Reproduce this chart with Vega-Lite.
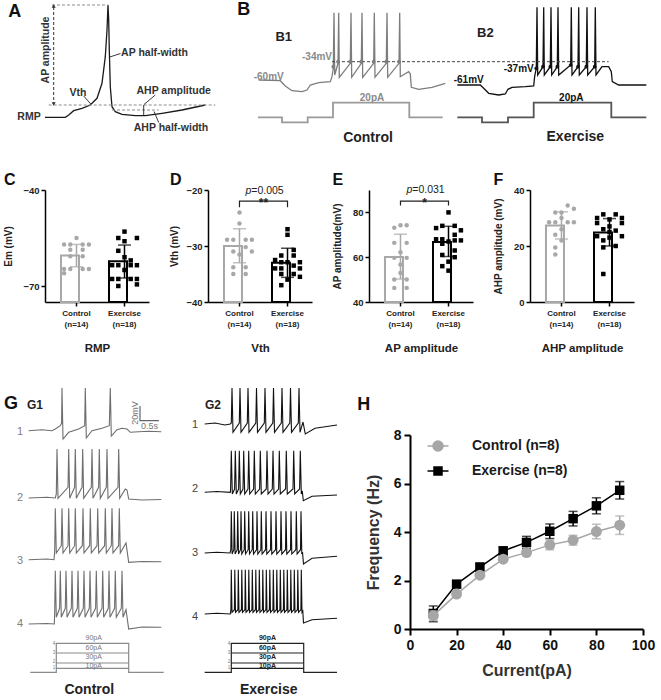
{
"$schema":"https://vega.github.io/schema/vega-lite/v6.json",
"padding":{"left":3,"top":0,"right":0,"bottom":0},
"background":"white",
"config":{"font":"Liberation Sans","view":{"stroke":null}},
"datasets":{
"top":[
{"s":"A","x":43,"y":32.7},{"s":"A","x":63.3,"y":32.7},{"s":"A","x":66.7,"y":35},{"s":"A","x":71.7,"y":39.3},{"s":"A","x":80,"y":41.7},{"s":"A","x":88.3,"y":45},{"s":"A","x":95,"y":51.7},{"s":"A","x":100,"y":66.7},{"s":"A","x":103.3,"y":93.3},{"s":"A","x":105,"y":120},{"s":"A","x":106,"y":145},{"s":"A","x":106.7,"y":130},{"s":"A","x":107.3,"y":100},{"s":"A","x":108.3,"y":63.3},{"s":"A","x":110,"y":43.3},{"s":"A","x":113.3,"y":38.3},{"s":"A","x":120,"y":35.7},{"s":"A","x":133.3,"y":34.3},{"s":"A","x":143.3,"y":34.3},{"s":"A","x":160,"y":36.7},{"s":"A","x":180,"y":40},{"s":"A","x":203.3,"y":45},
{"s":"Aa1","x":81.7,"y":54},{"s":"Aa1","x":88.8,"y":46},
{"s":"Aa2","x":118.5,"y":96.5},{"s":"Aa2","x":107.8,"y":93},
{"s":"Aa3","x":153.3,"y":55},{"s":"Aa3","x":142,"y":45.5},
{"s":"Aa4","x":156.7,"y":27.5},{"s":"Aa4","x":152,"y":38.5},
{"s":"Aa5","x":141.7,"y":45},{"s":"Aa5","x":141.7,"y":34.5},
{"s":"Ad1","x":50,"y":145},{"s":"Ad1","x":106,"y":145},
{"s":"Ad2","x":46.7,"y":45},{"s":"Ad2","x":213.3,"y":45},
{"s":"Ad3","x":110,"y":40},{"s":"Ad3","x":156.7,"y":40},
{"s":"Av","x":51.7,"y":143},{"s":"Av","x":51.7,"y":47},
{"s":"B1","x":256.7,"y":70},{"s":"B1","x":278.3,"y":69.3},{"s":"B1","x":283.3,"y":64},{"s":"B1","x":290,"y":59.3},{"s":"B1","x":300,"y":58.3},{"s":"B1","x":305,"y":60},{"s":"B1","x":308.3,"y":65},{"s":"B1","x":316.7,"y":67.3},{"s":"B1","x":328.3,"y":68.3},{"s":"B1","x":330,"y":73.3},{"s":"B1","x":331.3,"y":81.7},{"s":"B1","x":332,"y":137.3},{"s":"B1","x":332.7,"y":75},{"s":"B1","x":336,"y":86.7},{"s":"B1","x":336.7,"y":137.3},{"s":"B1","x":337.3,"y":72.7},{"s":"B1","x":348.3,"y":86.7},{"s":"B1","x":349,"y":137.3},{"s":"B1","x":349.7,"y":72.7},{"s":"B1","x":359.3,"y":86.7},{"s":"B1","x":360,"y":137.3},{"s":"B1","x":360.7,"y":72.7},{"s":"B1","x":371.7,"y":86.7},{"s":"B1","x":372.3,"y":137.3},{"s":"B1","x":373,"y":72.7},{"s":"B1","x":384.3,"y":86.7},{"s":"B1","x":385,"y":137.3},{"s":"B1","x":385.7,"y":72.7},{"s":"B1","x":397,"y":86.7},{"s":"B1","x":397.7,"y":137.3},{"s":"B1","x":398.3,"y":73.3},{"s":"B1","x":406.7,"y":78.3},{"s":"B1","x":408.3,"y":76},{"s":"B1","x":409.3,"y":62.7},{"s":"B1","x":416.7,"y":60.7},{"s":"B1","x":430,"y":62.7},{"s":"B1","x":443.3,"y":66.7},
{"s":"B1i","x":256,"y":32.7},{"s":"B1i","x":280,"y":32.7},{"s":"B1i","x":280,"y":27.7},{"s":"B1i","x":305.7,"y":27.7},{"s":"B1i","x":305.7,"y":32.7},{"s":"B1i","x":331,"y":32.7},{"s":"B1i","x":331,"y":47.3},{"s":"B1i","x":407.3,"y":47.3},{"s":"B1i","x":407.3,"y":32.7},{"s":"B1i","x":440.7,"y":32.7},
{"s":"B2","x":455.3,"y":65},{"s":"B2","x":478.3,"y":65},{"s":"B2","x":481.7,"y":61.7},{"s":"B2","x":486.7,"y":56.7},{"s":"B2","x":496.7,"y":55},{"s":"B2","x":503.3,"y":56},{"s":"B2","x":506,"y":60.7},{"s":"B2","x":510,"y":62.7},{"s":"B2","x":523.3,"y":63.3},{"s":"B2","x":531.7,"y":64},{"s":"B2","x":532.7,"y":74},{"s":"B2","x":534.3,"y":81.7},{"s":"B2","x":535,"y":142.7},{"s":"B2","x":535.7,"y":75},{"s":"B2","x":541,"y":83.3},{"s":"B2","x":541.7,"y":142.7},{"s":"B2","x":542.3,"y":75},{"s":"B2","x":548.3,"y":83.3},{"s":"B2","x":549,"y":142.7},{"s":"B2","x":549.7,"y":75},{"s":"B2","x":555.3,"y":83.3},{"s":"B2","x":556,"y":142.7},{"s":"B2","x":556.7,"y":75},{"s":"B2","x":568.7,"y":85},{"s":"B2","x":569.3,"y":142.7},{"s":"B2","x":570,"y":75},{"s":"B2","x":576,"y":83.3},{"s":"B2","x":576.7,"y":142.7},{"s":"B2","x":577.3,"y":75},{"s":"B2","x":584.3,"y":83.3},{"s":"B2","x":585,"y":142.7},{"s":"B2","x":585.7,"y":75},{"s":"B2","x":592.7,"y":83.3},{"s":"B2","x":593.3,"y":142.7},{"s":"B2","x":594,"y":75},{"s":"B2","x":600,"y":83.3},{"s":"B2","x":606.7,"y":83.3},{"s":"B2","x":609.3,"y":78.3},{"s":"B2","x":610.3,"y":68.3},{"s":"B2","x":616.7,"y":65},{"s":"B2","x":630,"y":65},{"s":"B2","x":644.3,"y":65},
{"s":"B2i","x":455.3,"y":32.7},{"s":"B2i","x":480,"y":32.7},{"s":"B2i","x":480,"y":27.7},{"s":"B2i","x":506,"y":27.7},{"s":"B2i","x":506,"y":32.7},{"s":"B2i","x":531.7,"y":32.7},{"s":"B2i","x":531.7,"y":47.3},{"s":"B2i","x":609.3,"y":47.3},{"s":"B2i","x":609.3,"y":32.7},{"s":"B2i","x":644.3,"y":32.7},
{"s":"Bd","x":330,"y":88.3},{"s":"Bd","x":606.7,"y":88.3}
],
"mk":[
{"s":"B1","x":331.3,"y":83.3},{"s":"B1","x":336,"y":88.3},{"s":"B1","x":348.3,"y":88.3},{"s":"B1","x":359.3,"y":88.3},{"s":"B1","x":371.7,"y":88.3},{"s":"B1","x":384.3,"y":88.3},{"s":"B1","x":397,"y":88.3},
{"s":"B2","x":534.3,"y":81.7},{"s":"B2","x":541,"y":83.3},{"s":"B2","x":548.3,"y":83.3},{"s":"B2","x":555.3,"y":83.3},{"s":"B2","x":568.7,"y":85},{"s":"B2","x":576,"y":83.3},{"s":"B2","x":584.3,"y":83.3},{"s":"B2","x":592.7,"y":83.3}
],
"ah":[{"x":51.7,"y":144,"d":"up"},{"x":51.7,"y":46,"d":"down"}],
"ttop":[
{"x":12.7,"y":138.3,"t":"A","k":"L"},{"x":241.7,"y":140,"t":"B","k":"L"},
{"x":281.7,"y":113.3,"t":"B1","k":"S"},{"x":483.3,"y":116.7,"t":"B2","k":"S"},
{"x":366,"y":11.7,"t":"Control","k":"C"},{"x":573.3,"y":13.3,"t":"Exercise","k":"C"},
{"x":76,"y":57.3,"t":"Vth","k":"N"},{"x":152.5,"y":97.3,"t":"AP half-width","k":"N"},{"x":171.7,"y":59.3,"t":"AHP amplitude","k":"N"},{"x":169,"y":22.3,"t":"AHP half-width","k":"N"},{"x":27,"y":32.7,"t":"RMP","k":"N"},
{"x":44.3,"y":100,"t":"AP amplitude","k":"R"},
{"x":266.7,"y":72.7,"t":"-60mV","k":"Vg"},{"x":315,"y":92.7,"t":"-34mV","k":"Vg"},{"x":370,"y":52.3,"t":"20pA","k":"Vg"},
{"x":466.7,"y":70,"t":"-61mV","k":"Vb"},{"x":516.7,"y":80.7,"t":"-37mV","k":"Vb"},{"x":569.3,"y":52.3,"t":"20pA","k":"Vb"}
],
"sum":[
{"p":"C","grp":"Control","m":-60.5,"lo":-64,"hi":-57},{"p":"C","grp":"Exercise","m":-62.3,"lo":-67.5,"hi":-57.2},
{"p":"D","grp":"Control","m":-30,"lo":-33,"hi":-26.9},{"p":"D","grp":"Exercise","m":-33,"lo":-35.6,"hi":-30.4},
{"p":"E","grp":"Control","m":60.1,"lo":50.3,"hi":70.3},{"p":"E","grp":"Exercise","m":66.8,"lo":60.3,"hi":73.8},
{"p":"F","grp":"Control","m":27.3,"lo":22.5,"hi":32.2},{"p":"F","grp":"Exercise","m":24.8,"lo":20,"hi":29.8}
],
"pts":[
{"p":"C","grp":"Control","v":-55,"k":0},{"p":"C","grp":"Control","v":-57,"k":-2},{"p":"C","grp":"Control","v":-57,"k":-1},{"p":"C","grp":"Control","v":-57,"k":1},{"p":"C","grp":"Control","v":-57,"k":2},{"p":"C","grp":"Control","v":-58.7,"k":-1},{"p":"C","grp":"Control","v":-58.7,"k":1},{"p":"C","grp":"Control","v":-60.7,"k":-1},{"p":"C","grp":"Control","v":-60.7,"k":1},{"p":"C","grp":"Control","v":-64.7,"k":-2},{"p":"C","grp":"Control","v":-64.7,"k":-1},{"p":"C","grp":"Control","v":-64.7,"k":1},{"p":"C","grp":"Control","v":-64.7,"k":2},{"p":"C","grp":"Control","v":-66,"k":-2},
{"p":"C","grp":"Exercise","v":-53,"k":0},{"p":"C","grp":"Exercise","v":-55,"k":-1},{"p":"C","grp":"Exercise","v":-55,"k":2},{"p":"C","grp":"Exercise","v":-56,"k":0},{"p":"C","grp":"Exercise","v":-59,"k":-1},{"p":"C","grp":"Exercise","v":-61,"k":0},{"p":"C","grp":"Exercise","v":-62,"k":1},{"p":"C","grp":"Exercise","v":-63.5,"k":-2},{"p":"C","grp":"Exercise","v":-63.5,"k":-1},{"p":"C","grp":"Exercise","v":-63.5,"k":1},{"p":"C","grp":"Exercise","v":-63.5,"k":2},{"p":"C","grp":"Exercise","v":-65,"k":0},{"p":"C","grp":"Exercise","v":-67.8,"k":-2},{"p":"C","grp":"Exercise","v":-67.8,"k":-1},{"p":"C","grp":"Exercise","v":-67.8,"k":1},{"p":"C","grp":"Exercise","v":-67.8,"k":2},{"p":"C","grp":"Exercise","v":-69.5,"k":2},{"p":"C","grp":"Exercise","v":-70,"k":-1},
{"p":"D","grp":"Control","v":-24,"k":0},{"p":"D","grp":"Control","v":-26,"k":0},{"p":"D","grp":"Control","v":-28.9,"k":-2},{"p":"D","grp":"Control","v":-28.9,"k":-1},{"p":"D","grp":"Control","v":-28.9,"k":1},{"p":"D","grp":"Control","v":-28.9,"k":2},{"p":"D","grp":"Control","v":-30.2,"k":1},{"p":"D","grp":"Control","v":-31,"k":-1},{"p":"D","grp":"Control","v":-31.5,"k":0},{"p":"D","grp":"Control","v":-31,"k":2},{"p":"D","grp":"Control","v":-33.8,"k":-1},{"p":"D","grp":"Control","v":-33.8,"k":1},{"p":"D","grp":"Control","v":-35,"k":-1},{"p":"D","grp":"Control","v":-35,"k":1},
{"p":"D","grp":"Exercise","v":-27,"k":0},{"p":"D","grp":"Exercise","v":-28,"k":0},{"p":"D","grp":"Exercise","v":-30.7,"k":1},{"p":"D","grp":"Exercise","v":-31.7,"k":-1},{"p":"D","grp":"Exercise","v":-31.7,"k":1},{"p":"D","grp":"Exercise","v":-32.5,"k":-2},{"p":"D","grp":"Exercise","v":-32.9,"k":-1},{"p":"D","grp":"Exercise","v":-32.9,"k":0},{"p":"D","grp":"Exercise","v":-32.9,"k":2},{"p":"D","grp":"Exercise","v":-33.5,"k":1},{"p":"D","grp":"Exercise","v":-34,"k":-2},{"p":"D","grp":"Exercise","v":-34,"k":-1},{"p":"D","grp":"Exercise","v":-34,"k":2},{"p":"D","grp":"Exercise","v":-35,"k":-1},{"p":"D","grp":"Exercise","v":-35,"k":1},{"p":"D","grp":"Exercise","v":-35.5,"k":2},{"p":"D","grp":"Exercise","v":-36,"k":0},{"p":"D","grp":"Exercise","v":-37,"k":-1},
{"p":"E","grp":"Control","v":74.3,"k":0},{"p":"E","grp":"Control","v":74.3,"k":1},{"p":"E","grp":"Control","v":73.1,"k":-1},{"p":"E","grp":"Control","v":66.4,"k":-1},{"p":"E","grp":"Control","v":66.4,"k":1},{"p":"E","grp":"Control","v":62.2,"k":0},{"p":"E","grp":"Control","v":59.7,"k":-1},{"p":"E","grp":"Control","v":59.7,"k":1},{"p":"E","grp":"Control","v":56.7,"k":0},{"p":"E","grp":"Control","v":53,"k":0},{"p":"E","grp":"Control","v":50,"k":-1},{"p":"E","grp":"Control","v":50,"k":1},{"p":"E","grp":"Control","v":46.3,"k":-1},{"p":"E","grp":"Control","v":46.3,"k":1},
{"p":"E","grp":"Exercise","v":80,"k":0},{"p":"E","grp":"Exercise","v":74,"k":-1},{"p":"E","grp":"Exercise","v":74,"k":1},{"p":"E","grp":"Exercise","v":73,"k":-2},{"p":"E","grp":"Exercise","v":72,"k":2},{"p":"E","grp":"Exercise","v":70,"k":1},{"p":"E","grp":"Exercise","v":68,"k":-2},{"p":"E","grp":"Exercise","v":68,"k":-1},{"p":"E","grp":"Exercise","v":67.5,"k":1},{"p":"E","grp":"Exercise","v":67.5,"k":2},{"p":"E","grp":"Exercise","v":67,"k":0},{"p":"E","grp":"Exercise","v":66,"k":-1},{"p":"E","grp":"Exercise","v":63,"k":1},{"p":"E","grp":"Exercise","v":61,"k":-1},{"p":"E","grp":"Exercise","v":60,"k":1},{"p":"E","grp":"Exercise","v":58,"k":0},{"p":"E","grp":"Exercise","v":56,"k":-1},{"p":"E","grp":"Exercise","v":54,"k":0},
{"p":"F","grp":"Control","v":34.5,"k":1},{"p":"F","grp":"Control","v":33.3,"k":2},{"p":"F","grp":"Control","v":32,"k":-1},{"p":"F","grp":"Control","v":32,"k":0},{"p":"F","grp":"Control","v":30,"k":0},{"p":"F","grp":"Control","v":28.5,"k":-2},{"p":"F","grp":"Control","v":28.5,"k":-1},{"p":"F","grp":"Control","v":28.5,"k":1},{"p":"F","grp":"Control","v":28.5,"k":2},{"p":"F","grp":"Control","v":26,"k":0},{"p":"F","grp":"Control","v":24,"k":-1},{"p":"F","grp":"Control","v":22,"k":0},{"p":"F","grp":"Control","v":19.5,"k":-1},{"p":"F","grp":"Control","v":17,"k":-1},
{"p":"F","grp":"Exercise","v":31.3,"k":-1},{"p":"F","grp":"Exercise","v":31.3,"k":1},{"p":"F","grp":"Exercise","v":30,"k":-2},{"p":"F","grp":"Exercise","v":30,"k":2},{"p":"F","grp":"Exercise","v":29.5,"k":0},{"p":"F","grp":"Exercise","v":28.2,"k":-2},{"p":"F","grp":"Exercise","v":28.2,"k":2},{"p":"F","grp":"Exercise","v":27,"k":0},{"p":"F","grp":"Exercise","v":26,"k":-1},{"p":"F","grp":"Exercise","v":25.5,"k":1},{"p":"F","grp":"Exercise","v":25,"k":0},{"p":"F","grp":"Exercise","v":23.5,"k":-2},{"p":"F","grp":"Exercise","v":23.5,"k":2},{"p":"F","grp":"Exercise","v":23,"k":0},{"p":"F","grp":"Exercise","v":22,"k":-1},{"p":"F","grp":"Exercise","v":20,"k":1},{"p":"F","grp":"Exercise","v":19.5,"k":-1},{"p":"F","grp":"Exercise","v":10,"k":-1}
],
"brk":[
{"p":"D","grp":"Control","y":-23.1},{"p":"D","grp":"Control","y":-22},{"p":"D","grp":"Exercise","y":-22},{"p":"D","grp":"Exercise","y":-23.1},
{"p":"E","grp":"Control","y":83.1},{"p":"E","grp":"Control","y":85},{"p":"E","grp":"Exercise","y":85},{"p":"E","grp":"Exercise","y":83.1}
],
"sig":[
{"p":"D","grp":"Control","y":-22,"pv":"=0.005","st":"**"},
{"p":"E","grp":"Control","y":85,"pv":"=0.031","st":"*"}
],
"freq":[
{"cur":10,"g":"Control","f":0.55,"lo":0.35,"hi":0.75},{"cur":20,"g":"Control","f":1.44,"lo":1.34,"hi":1.54},{"cur":30,"g":"Control","f":2.22,"lo":2.12,"hi":2.32},{"cur":40,"g":"Control","f":2.88,"lo":2.78,"hi":2.98},{"cur":50,"g":"Control","f":3.15,"lo":3.03,"hi":3.27},{"cur":60,"g":"Control","f":3.47,"lo":3.27,"hi":3.67},{"cur":70,"g":"Control","f":3.66,"lo":3.46,"hi":3.86},{"cur":80,"g":"Control","f":4.02,"lo":3.72,"hi":4.32},{"cur":90,"g":"Control","f":4.28,"lo":3.9,"hi":4.66},
{"cur":10,"g":"Exercise","f":0.64,"lo":0.3,"hi":0.95},{"cur":20,"g":"Exercise","f":1.85,"lo":1.71,"hi":1.99},{"cur":30,"g":"Exercise","f":2.55,"lo":2.38,"hi":2.72},{"cur":40,"g":"Exercise","f":3.22,"lo":3.05,"hi":3.39},{"cur":50,"g":"Exercise","f":3.57,"lo":3.32,"hi":3.82},{"cur":60,"g":"Exercise","f":4.03,"lo":3.73,"hi":4.33},{"cur":70,"g":"Exercise","f":4.55,"lo":4.25,"hi":4.85},{"cur":80,"g":"Exercise","f":5.08,"lo":4.75,"hi":5.41},{"cur":90,"g":"Exercise","f":5.72,"lo":5.36,"hi":6.08}
],
"gl":[
{"s":"g1r1","x":26.7,"y":268.3},{"s":"g1r1","x":40,"y":269.3},{"s":"g1r1","x":50,"y":268.3},{"s":"g1r1","x":53.3,"y":270},{"s":"g1r1","x":58.3,"y":273.3},{"s":"g1r1","x":59.6,"y":276},{"s":"g1r1","x":60,"y":311},{"s":"g1r1","x":61,"y":260},{"s":"g1r1","x":66.7,"y":266.7},{"s":"g1r1","x":76.7,"y":270},{"s":"g1r1","x":82.7,"y":273.3},{"s":"g1r1","x":83.3,"y":311},{"s":"g1r1","x":84.3,"y":261},{"s":"g1r1","x":90,"y":268.3},{"s":"g1r1","x":100,"y":270.7},{"s":"g1r1","x":107.3,"y":273.3},{"s":"g1r1","x":108.3,"y":311},{"s":"g1r1","x":109.3,"y":263},{"s":"g1r1","x":115,"y":269.3},{"s":"g1r1","x":120,"y":270.7},{"s":"g1r1","x":125,"y":270},{"s":"g1r1","x":128.3,"y":266.7},{"s":"g1r1","x":136.7,"y":267.3},{"s":"g1r1","x":146.7,"y":267.7},{"s":"g1r1","x":159.3,"y":267.3},
{"s":"g1r2","x":26.7,"y":201},{"s":"g1r2","x":45,"y":201.7},{"s":"g1r2","x":53.3,"y":201},{"s":"g1r2","x":54.3,"y":205},{"s":"g1r2","x":55,"y":250},{"s":"g1r2","x":56,"y":200.7},{"s":"g1r2","x":66,"y":211.7},{"s":"g1r2","x":66.7,"y":250},{"s":"g1r2","x":67.7,"y":200.7},{"s":"g1r2","x":72.6,"y":211.7},{"s":"g1r2","x":73.3,"y":250},{"s":"g1r2","x":74.3,"y":200.7},{"s":"g1r2","x":80,"y":211.7},{"s":"g1r2","x":80.7,"y":250},{"s":"g1r2","x":81.7,"y":200.7},{"s":"g1r2","x":89.3,"y":211.7},{"s":"g1r2","x":90,"y":250},{"s":"g1r2","x":91,"y":200.7},{"s":"g1r2","x":96.6,"y":211.7},{"s":"g1r2","x":97.3,"y":250},{"s":"g1r2","x":98.3,"y":200.7},{"s":"g1r2","x":104.3,"y":211.7},{"s":"g1r2","x":105,"y":250},{"s":"g1r2","x":106,"y":200.7},{"s":"g1r2","x":116,"y":211.7},{"s":"g1r2","x":116.7,"y":250},{"s":"g1r2","x":117.7,"y":200.7},{"s":"g1r2","x":123.3,"y":210},{"s":"g1r2","x":125,"y":209},{"s":"g1r2","x":126.7,"y":200},{"s":"g1r2","x":140,"y":199},{"s":"g1r2","x":159.3,"y":199.5},
{"s":"g1r3","x":26.7,"y":139.3},{"s":"g1r3","x":45,"y":140},{"s":"g1r3","x":52,"y":139.3},{"s":"g1r3","x":52.7,"y":148.3},{"s":"g1r3","x":53.3,"y":190.7},{"s":"g1r3","x":54.3,"y":146},{"s":"g1r3","x":59.3,"y":153.3},{"s":"g1r3","x":60,"y":190.7},{"s":"g1r3","x":61,"y":146},{"s":"g1r3","x":66,"y":153.3},{"s":"g1r3","x":66.7,"y":190.7},{"s":"g1r3","x":67.7,"y":146},{"s":"g1r3","x":72.6,"y":153.3},{"s":"g1r3","x":73.3,"y":190.7},{"s":"g1r3","x":74.3,"y":146},{"s":"g1r3","x":80.3,"y":153.3},{"s":"g1r3","x":81,"y":190.7},{"s":"g1r3","x":82,"y":146},{"s":"g1r3","x":87.6,"y":153.3},{"s":"g1r3","x":88.3,"y":190.7},{"s":"g1r3","x":89.3,"y":146},{"s":"g1r3","x":95,"y":153.3},{"s":"g1r3","x":95.7,"y":190.7},{"s":"g1r3","x":96.7,"y":146},{"s":"g1r3","x":102.6,"y":153.3},{"s":"g1r3","x":103.3,"y":190.7},{"s":"g1r3","x":104.3,"y":146},{"s":"g1r3","x":109.3,"y":153.3},{"s":"g1r3","x":110,"y":190.7},{"s":"g1r3","x":111,"y":146},{"s":"g1r3","x":116.6,"y":153.3},{"s":"g1r3","x":117.3,"y":190.7},{"s":"g1r3","x":118.3,"y":146},{"s":"g1r3","x":124,"y":156},{"s":"g1r3","x":126.7,"y":136.7},{"s":"g1r3","x":140,"y":137.5},{"s":"g1r3","x":159.3,"y":137.3},
{"s":"g1r4","x":26.7,"y":75},{"s":"g1r4","x":45,"y":75.5},{"s":"g1r4","x":52.3,"y":75},{"s":"g1r4","x":52.7,"y":86.7},{"s":"g1r4","x":53.3,"y":128.3},{"s":"g1r4","x":54.3,"y":81.7},{"s":"g1r4","x":57.6,"y":90.7},{"s":"g1r4","x":58.3,"y":128.3},{"s":"g1r4","x":59.3,"y":81.7},{"s":"g1r4","x":63.3,"y":90.7},{"s":"g1r4","x":64,"y":128.3},{"s":"g1r4","x":65,"y":81.7},{"s":"g1r4","x":69.3,"y":90.7},{"s":"g1r4","x":70,"y":128.3},{"s":"g1r4","x":71,"y":81.7},{"s":"g1r4","x":75.3,"y":90.7},{"s":"g1r4","x":76,"y":128.3},{"s":"g1r4","x":77,"y":81.7},{"s":"g1r4","x":81.3,"y":90.7},{"s":"g1r4","x":82,"y":128.3},{"s":"g1r4","x":83,"y":81.7},{"s":"g1r4","x":87.3,"y":90.7},{"s":"g1r4","x":88,"y":128.3},{"s":"g1r4","x":89,"y":81.7},{"s":"g1r4","x":93.6,"y":90.7},{"s":"g1r4","x":94.3,"y":128.3},{"s":"g1r4","x":95.3,"y":81.7},{"s":"g1r4","x":100,"y":90.7},{"s":"g1r4","x":100.7,"y":128.3},{"s":"g1r4","x":101.7,"y":81.7},{"s":"g1r4","x":106.3,"y":90.7},{"s":"g1r4","x":107,"y":128.3},{"s":"g1r4","x":108,"y":81.7},{"s":"g1r4","x":112.6,"y":90.7},{"s":"g1r4","x":113.3,"y":128.3},{"s":"g1r4","x":114.3,"y":81.7},{"s":"g1r4","x":119.3,"y":90.7},{"s":"g1r4","x":120,"y":128.3},{"s":"g1r4","x":121,"y":81.7},{"s":"g1r4","x":124,"y":89.3},{"s":"g1r4","x":126.7,"y":70},{"s":"g1r4","x":140,"y":72},{"s":"g1r4","x":159.3,"y":71.7},
{"s":"g2r1","x":202.7,"y":275},{"s":"g2r1","x":213,"y":276},{"s":"g2r1","x":223,"y":274},{"s":"g2r1","x":228.3,"y":275},{"s":"g2r1","x":229.3,"y":276},{"s":"g2r1","x":230,"y":311},{"s":"g2r1","x":231,"y":266.7},{"s":"g2r1","x":237.3,"y":276},{"s":"g2r1","x":238,"y":311},{"s":"g2r1","x":239,"y":266.7},{"s":"g2r1","x":245.3,"y":276},{"s":"g2r1","x":246,"y":311},{"s":"g2r1","x":247,"y":266.7},{"s":"g2r1","x":253.8,"y":276},{"s":"g2r1","x":254.5,"y":311},{"s":"g2r1","x":255.5,"y":266.7},{"s":"g2r1","x":262.3,"y":276},{"s":"g2r1","x":263,"y":311},{"s":"g2r1","x":264,"y":266.7},{"s":"g2r1","x":270.8,"y":276},{"s":"g2r1","x":271.5,"y":311},{"s":"g2r1","x":272.5,"y":266.7},{"s":"g2r1","x":279.3,"y":276},{"s":"g2r1","x":280,"y":311},{"s":"g2r1","x":281,"y":266.7},{"s":"g2r1","x":287.8,"y":276},{"s":"g2r1","x":288.5,"y":311},{"s":"g2r1","x":289.5,"y":266.7},{"s":"g2r1","x":296.3,"y":276},{"s":"g2r1","x":297,"y":311},{"s":"g2r1","x":298,"y":266.7},{"s":"g2r1","x":301,"y":277},{"s":"g2r1","x":303.3,"y":265},{"s":"g2r1","x":313,"y":270.7},{"s":"g2r1","x":335,"y":274},
{"s":"g2r2","x":202.7,"y":206.7},{"s":"g2r2","x":215,"y":207.5},{"s":"g2r2","x":228.3,"y":206.7},{"s":"g2r2","x":228.6,"y":210},{"s":"g2r2","x":229.3,"y":248.3},{"s":"g2r2","x":230.3,"y":205},{"s":"g2r2","x":232.6,"y":210},{"s":"g2r2","x":233.3,"y":248.3},{"s":"g2r2","x":234.3,"y":205},{"s":"g2r2","x":236.6,"y":210},{"s":"g2r2","x":237.3,"y":248.3},{"s":"g2r2","x":238.3,"y":205},{"s":"g2r2","x":241,"y":210},{"s":"g2r2","x":241.7,"y":248.3},{"s":"g2r2","x":242.7,"y":205},{"s":"g2r2","x":246,"y":210},{"s":"g2r2","x":246.7,"y":248.3},{"s":"g2r2","x":247.7,"y":205},{"s":"g2r2","x":251.6,"y":210},{"s":"g2r2","x":252.3,"y":248.3},{"s":"g2r2","x":253.3,"y":205},{"s":"g2r2","x":257.6,"y":210},{"s":"g2r2","x":258.3,"y":248.3},{"s":"g2r2","x":259.3,"y":205},{"s":"g2r2","x":264.3,"y":210},{"s":"g2r2","x":265,"y":248.3},{"s":"g2r2","x":266,"y":205},{"s":"g2r2","x":270.3,"y":210},{"s":"g2r2","x":271,"y":248.3},{"s":"g2r2","x":272,"y":205},{"s":"g2r2","x":276.6,"y":210},{"s":"g2r2","x":277.3,"y":248.3},{"s":"g2r2","x":278.3,"y":205},{"s":"g2r2","x":283.6,"y":210},{"s":"g2r2","x":284.3,"y":248.3},{"s":"g2r2","x":285.3,"y":205},{"s":"g2r2","x":291,"y":210},{"s":"g2r2","x":291.7,"y":248.3},{"s":"g2r2","x":292.7,"y":205},{"s":"g2r2","x":297.6,"y":210},{"s":"g2r2","x":298.3,"y":248.3},{"s":"g2r2","x":299.3,"y":205},{"s":"g2r2","x":300.3,"y":208},{"s":"g2r2","x":301.3,"y":198.3},{"s":"g2r2","x":310,"y":202.7},{"s":"g2r2","x":335,"y":204},
{"s":"g2r3","x":202.7,"y":146},{"s":"g2r3","x":215,"y":146.7},{"s":"g2r3","x":228,"y":146},{"s":"g2r3","x":228.8,"y":149.3},{"s":"g2r3","x":229.3,"y":187.7},{"s":"g2r3","x":230.1,"y":145},{"s":"g2r3","x":231.8,"y":149.3},{"s":"g2r3","x":232.3,"y":187.7},{"s":"g2r3","x":233.1,"y":145},{"s":"g2r3","x":235.2,"y":149.3},{"s":"g2r3","x":235.7,"y":187.7},{"s":"g2r3","x":236.5,"y":145},{"s":"g2r3","x":238.5,"y":149.3},{"s":"g2r3","x":239,"y":187.7},{"s":"g2r3","x":239.8,"y":145},{"s":"g2r3","x":242.2,"y":149.3},{"s":"g2r3","x":242.7,"y":187.7},{"s":"g2r3","x":243.5,"y":145},{"s":"g2r3","x":246.2,"y":149.3},{"s":"g2r3","x":246.7,"y":187.7},{"s":"g2r3","x":247.5,"y":145},{"s":"g2r3","x":250.2,"y":149.3},{"s":"g2r3","x":250.7,"y":187.7},{"s":"g2r3","x":251.5,"y":145},{"s":"g2r3","x":254.5,"y":149.3},{"s":"g2r3","x":255,"y":187.7},{"s":"g2r3","x":255.8,"y":145},{"s":"g2r3","x":258.8,"y":149.3},{"s":"g2r3","x":259.3,"y":187.7},{"s":"g2r3","x":260.1,"y":145},{"s":"g2r3","x":263.5,"y":149.3},{"s":"g2r3","x":264,"y":187.7},{"s":"g2r3","x":264.8,"y":145},{"s":"g2r3","x":268.5,"y":149.3},{"s":"g2r3","x":269,"y":187.7},{"s":"g2r3","x":269.8,"y":145},{"s":"g2r3","x":273.5,"y":149.3},{"s":"g2r3","x":274,"y":187.7},{"s":"g2r3","x":274.8,"y":145},{"s":"g2r3","x":278.5,"y":149.3},{"s":"g2r3","x":279,"y":187.7},{"s":"g2r3","x":279.8,"y":145},{"s":"g2r3","x":283.5,"y":149.3},{"s":"g2r3","x":284,"y":187.7},{"s":"g2r3","x":284.8,"y":145},{"s":"g2r3","x":288.5,"y":149.3},{"s":"g2r3","x":289,"y":187.7},{"s":"g2r3","x":289.8,"y":145},{"s":"g2r3","x":293.8,"y":149.3},{"s":"g2r3","x":294.3,"y":187.7},{"s":"g2r3","x":295.1,"y":145},{"s":"g2r3","x":298.5,"y":149.3},{"s":"g2r3","x":299,"y":187.7},{"s":"g2r3","x":299.8,"y":145},{"s":"g2r3","x":300.5,"y":147},{"s":"g2r3","x":301.5,"y":135},{"s":"g2r3","x":310,"y":140.7},{"s":"g2r3","x":335,"y":142.7},
{"s":"g2r4","x":202.7,"y":85},{"s":"g2r4","x":215,"y":85.7},{"s":"g2r4","x":228.3,"y":85},{"s":"g2r4","x":228.9,"y":89.3},{"s":"g2r4","x":229.3,"y":129.3},{"s":"g2r4","x":230,"y":86.7},{"s":"g2r4","x":232.4,"y":89.3},{"s":"g2r4","x":232.8,"y":129.3},{"s":"g2r4","x":233.5,"y":86.7},{"s":"g2r4","x":235.9,"y":89.3},{"s":"g2r4","x":236.3,"y":129.3},{"s":"g2r4","x":237,"y":86.7},{"s":"g2r4","x":239.4,"y":89.3},{"s":"g2r4","x":239.8,"y":129.3},{"s":"g2r4","x":240.5,"y":86.7},{"s":"g2r4","x":242.9,"y":89.3},{"s":"g2r4","x":243.3,"y":129.3},{"s":"g2r4","x":244,"y":86.7},{"s":"g2r4","x":246.4,"y":89.3},{"s":"g2r4","x":246.8,"y":129.3},{"s":"g2r4","x":247.5,"y":86.7},{"s":"g2r4","x":249.9,"y":89.3},{"s":"g2r4","x":250.3,"y":129.3},{"s":"g2r4","x":251,"y":86.7},{"s":"g2r4","x":253.4,"y":89.3},{"s":"g2r4","x":253.8,"y":129.3},{"s":"g2r4","x":254.5,"y":86.7},{"s":"g2r4","x":256.9,"y":89.3},{"s":"g2r4","x":257.3,"y":129.3},{"s":"g2r4","x":258,"y":86.7},{"s":"g2r4","x":260.4,"y":89.3},{"s":"g2r4","x":260.8,"y":129.3},{"s":"g2r4","x":261.5,"y":86.7},{"s":"g2r4","x":263.9,"y":89.3},{"s":"g2r4","x":264.3,"y":129.3},{"s":"g2r4","x":265,"y":86.7},{"s":"g2r4","x":267.4,"y":89.3},{"s":"g2r4","x":267.8,"y":129.3},{"s":"g2r4","x":268.5,"y":86.7},{"s":"g2r4","x":270.9,"y":89.3},{"s":"g2r4","x":271.3,"y":129.3},{"s":"g2r4","x":272,"y":86.7},{"s":"g2r4","x":274.4,"y":89.3},{"s":"g2r4","x":274.8,"y":129.3},{"s":"g2r4","x":275.5,"y":86.7},{"s":"g2r4","x":277.9,"y":89.3},{"s":"g2r4","x":278.3,"y":129.3},{"s":"g2r4","x":279,"y":86.7},{"s":"g2r4","x":281.4,"y":89.3},{"s":"g2r4","x":281.8,"y":129.3},{"s":"g2r4","x":282.5,"y":86.7},{"s":"g2r4","x":284.9,"y":89.3},{"s":"g2r4","x":285.3,"y":129.3},{"s":"g2r4","x":286,"y":86.7},{"s":"g2r4","x":288.4,"y":89.3},{"s":"g2r4","x":288.8,"y":129.3},{"s":"g2r4","x":289.5,"y":86.7},{"s":"g2r4","x":291.9,"y":89.3},{"s":"g2r4","x":292.3,"y":129.3},{"s":"g2r4","x":293,"y":86.7},{"s":"g2r4","x":295.4,"y":89.3},{"s":"g2r4","x":295.8,"y":129.3},{"s":"g2r4","x":296.5,"y":86.7},{"s":"g2r4","x":298.9,"y":89.3},{"s":"g2r4","x":299.3,"y":129.3},{"s":"g2r4","x":300,"y":86.7},{"s":"g2r4","x":300.8,"y":88},{"s":"g2r4","x":301.5,"y":76},{"s":"g2r4","x":310,"y":79.3},{"s":"g2r4","x":335,"y":80.7},
{"s":"g1s","x":28.3,"y":26.7},{"s":"g1s","x":54.3,"y":26.7},{"s":"g1s","x":54.3,"y":55.7},{"s":"g1s","x":126.7,"y":55.7},{"s":"g1s","x":126.7,"y":26.7},{"s":"g1s","x":161.7,"y":26.7},
{"s":"g1s1","x":54.3,"y":30.7},{"s":"g1s1","x":126.7,"y":30.7},
{"s":"g1s2","x":54.3,"y":36},{"s":"g1s2","x":126.7,"y":36},
{"s":"g1s3","x":54.3,"y":46},{"s":"g1s3","x":126.7,"y":46},
{"s":"g2s","x":202.7,"y":26.7},{"s":"g2s","x":229.3,"y":26.7},{"s":"g2s","x":229.3,"y":55.7},{"s":"g2s","x":301.7,"y":55.7},{"s":"g2s","x":301.7,"y":26.7},{"s":"g2s","x":335,"y":26.7},
{"s":"g2s1","x":229.3,"y":30.7},{"s":"g2s1","x":301.7,"y":30.7},
{"s":"g2s2","x":229.3,"y":36},{"s":"g2s2","x":301.7,"y":36},
{"s":"g2s3","x":229.3,"y":46},{"s":"g2s3","x":301.7,"y":46},
{"s":"sb","x":138,"y":293},{"s":"sb","x":138,"y":278.3},{"s":"sb","x":157,"y":278.3}
],
"gt":[
{"x":9,"y":295,"t":"G","k":"L"},
{"x":33,"y":294,"t":"G1","k":"S"},{"x":211,"y":294,"t":"G2","k":"S"},
{"x":87.3,"y":9,"t":"Control","k":"C"},{"x":266.7,"y":9.5,"t":"Exercise","k":"C"},
{"x":18,"y":267,"t":"1","k":"n1"},{"x":18,"y":201,"t":"2","k":"n1"},{"x":18,"y":138.3,"t":"3","k":"n1"},{"x":18,"y":75,"t":"4","k":"n1"},
{"x":193,"y":274,"t":"1","k":"n2"},{"x":193,"y":210,"t":"2","k":"n2"},{"x":193,"y":146,"t":"3","k":"n2"},{"x":193,"y":81.7,"t":"4","k":"n2"},
{"x":91.7,"y":60.7,"t":"90pA","k":"pa1"},{"x":91.7,"y":50.7,"t":"60pA","k":"pa1"},{"x":91.7,"y":41.7,"t":"30pA","k":"pa1"},{"x":91.7,"y":33.3,"t":"10pA","k":"pa1"},
{"x":265.5,"y":60.7,"t":"90pA","k":"pa2"},{"x":265.5,"y":50.7,"t":"60pA","k":"pa2"},{"x":265.5,"y":41.7,"t":"30pA","k":"pa2"},{"x":265.5,"y":33.3,"t":"10pA","k":"pa2"},
{"x":52,"y":31,"t":"1","k":"tn"},{"x":52,"y":37,"t":"2","k":"tn"},{"x":52,"y":46.5,"t":"3","k":"tn"},{"x":52,"y":55.5,"t":"4","k":"tn"},
{"x":227,"y":31,"t":"1","k":"tn"},{"x":227,"y":37,"t":"2","k":"tn"},{"x":227,"y":46.5,"t":"3","k":"tn"},{"x":227,"y":55.5,"t":"4","k":"tn"},
{"x":147.5,"y":273.5,"t":"0.5s","k":"sbt"},{"x":133,"y":286,"t":"20mV","k":"sbr"}
]
},
"spacing":22,
"columns":1,
"resolve":{"scale":{"color":"independent","stroke":"independent","fill":"independent","shape":"independent"}},
"concat":[
{
"width":618,"height":150,
"encoding":{
"x":{"field":"x","type":"quantitative","scale":{"domain":[43,661],"nice":false,"zero":false},"axis":null},
"y":{"field":"y","type":"quantitative","scale":{"domain":[0,150],"nice":false,"zero":false},"axis":null}},
"layer":[
{"data":{"name":"top"},"transform":[{"filter":"indexof(['A','B1','B2'],datum.s)>=0"}],"mark":{"type":"line","strokeWidth":1.3},
"encoding":{"detail":{"field":"s","type":"nominal"},"order":{"value":null},"stroke":{"field":"s","type":"nominal","scale":{"domain":["A","B1","B2","B1i","B2i","Ad1","Ad2","Ad3","Av","Bd","Aa1","Aa2","Aa3","Aa4","Aa5"],"range":["#1a1a1a","#7d7d7d","#111111","#9a9a9a","#555555","#8c8c8c","#8c8c8c","#8c8c8c","#333333","#444444","#222222","#222222","#222222","#222222","#222222"]},"legend":null}}},
{"data":{"name":"top"},"transform":[{"filter":"indexof(['B1i','B2i'],datum.s)>=0"}],"mark":{"type":"line","strokeWidth":1.8},
"encoding":{"detail":{"field":"s","type":"nominal"},"order":{"value":null},"stroke":{"field":"s","type":"nominal","legend":null}}},
{"data":{"name":"top"},"transform":[{"filter":"indexof(['Ad1','Ad2','Ad3','Av','Bd'],datum.s)>=0"}],"mark":{"type":"line","strokeWidth":1,"strokeDash":[3,2]},
"encoding":{"detail":{"field":"s","type":"nominal"},"order":{"value":null},"stroke":{"field":"s","type":"nominal","legend":null}}},
{"data":{"name":"top"},"transform":[{"filter":"indexof(['Aa1','Aa2','Aa3','Aa4','Aa5'],datum.s)>=0"}],"mark":{"type":"line","strokeWidth":0.9},
"encoding":{"detail":{"field":"s","type":"nominal"},"order":{"value":null},"stroke":{"field":"s","type":"nominal","legend":null}}},
{"data":{"name":"mk"},"mark":{"type":"point","filled":true,"size":14,"opacity":1},
"encoding":{"color":{"field":"s","type":"nominal","scale":{"domain":["B1","B2"],"range":["#7d7d7d","#111111"]},"legend":null}}},
{"data":{"name":"ah"},"mark":{"type":"point","filled":true,"size":16,"color":"#333333","opacity":1},
"encoding":{"shape":{"field":"d","type":"nominal","scale":{"domain":["up","down"],"range":["triangle-up","triangle-down"]},"legend":null}}},
{"data":{"name":"ttop"},"transform":[{"filter":"datum.k=='L'"}],"mark":{"type":"text","fontSize":18,"fontWeight":"bold","color":"#111111"},"encoding":{"text":{"field":"t","type":"nominal"}}},
{"data":{"name":"ttop"},"transform":[{"filter":"datum.k=='S'"}],"mark":{"type":"text","fontSize":13,"fontWeight":"bold","color":"#222222"},"encoding":{"text":{"field":"t","type":"nominal"}}},
{"data":{"name":"ttop"},"transform":[{"filter":"datum.k=='C'"}],"mark":{"type":"text","fontSize":14,"fontWeight":"bold","color":"#222222"},"encoding":{"text":{"field":"t","type":"nominal"}}},
{"data":{"name":"ttop"},"transform":[{"filter":"datum.k=='N'"}],"mark":{"type":"text","fontSize":10.5,"fontWeight":"bold","color":"#333333"},"encoding":{"text":{"field":"t","type":"nominal"}}},
{"data":{"name":"ttop"},"transform":[{"filter":"datum.k=='R'"}],"mark":{"type":"text","fontSize":10.5,"fontWeight":"bold","color":"#333333","angle":270},"encoding":{"text":{"field":"t","type":"nominal"}}},
{"data":{"name":"ttop"},"transform":[{"filter":"datum.k=='Vg'"}],"mark":{"type":"text","fontSize":10,"fontWeight":"bold","color":"#8a8a8a"},"encoding":{"text":{"field":"t","type":"nominal"}}},
{"data":{"name":"ttop"},"transform":[{"filter":"datum.k=='Vb'"}],"mark":{"type":"text","fontSize":10,"fontWeight":"bold","color":"#111111"},"encoding":{"text":{"field":"t","type":"nominal"}}}
]
},
{
"spacing":31,
"columns":1,
"resolve":{"scale":{"color":"independent","stroke":"independent","fill":"independent","shape":"independent"}},
"concat":[
{
"spacing":20,
"hconcat":[
{
"title":{"text":"C","anchor":"start","frame":"bounds","fontSize":16,"fontWeight":"bold","color":"#111111","offset":-3},
"width":104,"height":112,
"encoding":{"x":{"field":"grp","type":"nominal","title":"RMP","scale":{"domain":["Control","Exercise"],"paddingInner":0.354,"paddingOuter":0.26,"align":0.64},"axis":{"labelAngle":0,"labelExpr":"datum.value=='Control'?['Control','(n=14)']:['Exercise','(n=18)']","labelFontSize":8,"labelFontWeight":"bold","labelColor":"#222222","labelLineHeight":11,"domainColor":"#000000","domainWidth":1.5,"tickColor":"#000000","tickWidth":1.5,"tickSize":4,"labelPadding":3,"titleFontSize":11.5,"titleFontWeight":"bold","titleColor":"#222222","titlePadding":14}}},
"layer":[
{"data":{"name":"sum"},"transform":[{"filter":"datum.p=='C'"}],"mark":{"type":"bar","filled":false,"strokeWidth":2},
"encoding":{"y":{"field":"m","type":"quantitative","title":"Em (mV)","scale":{"domain":[-75,-40],"nice":false,"zero":false},"axis":{"values":[-70,-60,-50,-40],"labelOverlap":false,"grid":false,"domainColor":"#000000","domainWidth":1.5,"tickColor":"#000000","tickWidth":1.5,"tickSize":4,"labelFontSize":9.5,"labelFontWeight":"bold","labelColor":"#222222","labelPadding":2,"titleFontSize":10,"titleFontWeight":"bold","titleColor":"#222222","titlePadding":9}},"y2":{"datum":-75},
"color":{"field":"grp","type":"nominal","scale":{"domain":["Control","Exercise"],"range":["#a8a8a8","#000000"]},"legend":null}}},
{"data":{"name":"pts"},"transform":[{"filter":"datum.p=='C'"}],"mark":{"type":"point","filled":true,"size":20,"opacity":1},
"encoding":{"y":{"field":"v","type":"quantitative","title":"Em (mV)"},"xOffset":{"field":"k","type":"ordinal","scale":{"domain":[-2,-1,0,1,2]}},"color":{"field":"grp","type":"nominal","legend":null},"shape":{"field":"grp","type":"nominal","scale":{"domain":["Control","Exercise"],"range":["circle","square"]},"legend":null}}},
{"data":{"name":"sum"},"transform":[{"filter":"datum.p=='C'"}],"mark":{"type":"rule","strokeWidth":1.5},
"encoding":{"y":{"field":"lo","type":"quantitative","title":"Em (mV)"},"y2":{"field":"hi"},"color":{"field":"grp","type":"nominal","legend":null}}},
{"data":{"name":"sum"},"transform":[{"filter":"datum.p=='C'"}],"mark":{"type":"tick","size":13,"thickness":1.5},
"encoding":{"y":{"field":"lo","type":"quantitative","title":"Em (mV)"},"color":{"field":"grp","type":"nominal","legend":null}}},
{"data":{"name":"sum"},"transform":[{"filter":"datum.p=='C'"}],"mark":{"type":"tick","size":13,"thickness":1.5},
"encoding":{"y":{"field":"hi","type":"quantitative","title":"Em (mV)"},"color":{"field":"grp","type":"nominal","legend":null}}}
]
},
{
"title":{"text":"D","anchor":"start","frame":"bounds","fontSize":16,"fontWeight":"bold","color":"#111111","offset":-3},
"width":104,"height":112,
"encoding":{"x":{"field":"grp","type":"nominal","title":"Vth","scale":{"domain":["Control","Exercise"],"paddingInner":0.354,"paddingOuter":0.26,"align":0.64},"axis":{"labelAngle":0,"labelExpr":"datum.value=='Control'?['Control','(n=14)']:['Exercise','(n=18)']","labelFontSize":8,"labelFontWeight":"bold","labelColor":"#222222","labelLineHeight":11,"domainColor":"#000000","domainWidth":1.5,"tickColor":"#000000","tickWidth":1.5,"tickSize":4,"labelPadding":3,"titleFontSize":11.5,"titleFontWeight":"bold","titleColor":"#222222","titlePadding":14}}},
"layer":[
{"data":{"name":"sum"},"transform":[{"filter":"datum.p=='D'"}],"mark":{"type":"bar","filled":false,"strokeWidth":2},
"encoding":{"y":{"field":"m","type":"quantitative","title":"Vth (mV)","scale":{"domain":[-40,-20],"nice":false,"zero":false},"axis":{"values":[-40,-35,-30,-25,-20],"labelOverlap":false,"grid":false,"domainColor":"#000000","domainWidth":1.5,"tickColor":"#000000","tickWidth":1.5,"tickSize":4,"labelFontSize":9.5,"labelFontWeight":"bold","labelColor":"#222222","labelPadding":2,"titleFontSize":10,"titleFontWeight":"bold","titleColor":"#222222","titlePadding":6}},"y2":{"datum":-40},
"color":{"field":"grp","type":"nominal","scale":{"domain":["Control","Exercise"],"range":["#a8a8a8","#000000"]},"legend":null}}},
{"data":{"name":"pts"},"transform":[{"filter":"datum.p=='D'"}],"mark":{"type":"point","filled":true,"size":20,"opacity":1},
"encoding":{"y":{"field":"v","type":"quantitative","title":"Vth (mV)"},"xOffset":{"field":"k","type":"ordinal","scale":{"domain":[-2,-1,0,1,2]}},"color":{"field":"grp","type":"nominal","legend":null},"shape":{"field":"grp","type":"nominal","scale":{"domain":["Control","Exercise"],"range":["circle","square"]},"legend":null}}},
{"data":{"name":"sum"},"transform":[{"filter":"datum.p=='D'"}],"mark":{"type":"rule","strokeWidth":1.5},
"encoding":{"y":{"field":"lo","type":"quantitative","title":"Vth (mV)"},"y2":{"field":"hi"},"color":{"field":"grp","type":"nominal","legend":null}}},
{"data":{"name":"sum"},"transform":[{"filter":"datum.p=='D'"}],"mark":{"type":"tick","size":13,"thickness":1.5},
"encoding":{"y":{"field":"lo","type":"quantitative","title":"Vth (mV)"},"color":{"field":"grp","type":"nominal","legend":null}}},
{"data":{"name":"sum"},"transform":[{"filter":"datum.p=='D'"}],"mark":{"type":"tick","size":13,"thickness":1.5},
"encoding":{"y":{"field":"hi","type":"quantitative","title":"Vth (mV)"},"color":{"field":"grp","type":"nominal","legend":null}}},
{"data":{"name":"brk"},"transform":[{"filter":"datum.p=='D'"}],"mark":{"type":"line","strokeWidth":1.2,"color":"#222222"},
"encoding":{"y":{"field":"y","type":"quantitative","title":"Vth (mV)"},"order":{"value":null}}},
{"data":{"name":"sig"},"transform":[{"filter":"datum.p=='D'"}],"mark":{"type":"text","fontSize":10.5,"fontStyle":"italic","align":"left","dx":6,"dy":-10,"color":"#222222"},
"encoding":{"y":{"field":"y","type":"quantitative","title":"Vth (mV)"},"text":{"value":"p"}}},
{"data":{"name":"sig"},"transform":[{"filter":"datum.p=='D'"}],"mark":{"type":"text","fontSize":10.5,"align":"left","dx":11.8,"dy":-10,"color":"#222222"},
"encoding":{"y":{"field":"y","type":"quantitative","title":"Vth (mV)"},"text":{"field":"pv","type":"nominal"}}},
{"data":{"name":"sig"},"transform":[{"filter":"datum.p=='D'"}],"mark":{"type":"text","fontSize":12,"fontWeight":"bold","align":"center","dx":24,"dy":2,"color":"#222222"},
"encoding":{"y":{"field":"y","type":"quantitative","title":"Vth (mV)"},"text":{"field":"st","type":"nominal"}}}
]
},
{
"title":{"text":"E","anchor":"start","frame":"bounds","fontSize":16,"fontWeight":"bold","color":"#111111","offset":-3},
"width":104,"height":112,
"encoding":{"x":{"field":"grp","type":"nominal","title":"AP amplitude","scale":{"domain":["Control","Exercise"],"paddingInner":0.354,"paddingOuter":0.26,"align":0.64},"axis":{"labelAngle":0,"labelExpr":"datum.value=='Control'?['Control','(n=14)']:['Exercise','(n=18)']","labelFontSize":8,"labelFontWeight":"bold","labelColor":"#222222","labelLineHeight":11,"domainColor":"#000000","domainWidth":1.5,"tickColor":"#000000","tickWidth":1.5,"tickSize":4,"labelPadding":3,"titleFontSize":11.5,"titleFontWeight":"bold","titleColor":"#222222","titlePadding":14}}},
"layer":[
{"data":{"name":"sum"},"transform":[{"filter":"datum.p=='E'"}],"mark":{"type":"bar","filled":false,"strokeWidth":2},
"encoding":{"y":{"field":"m","type":"quantitative","title":"AP amplitude(mV)","scale":{"domain":[40,90],"nice":false,"zero":false},"axis":{"values":[40,50,60,70,80,90],"labelOverlap":false,"grid":false,"domainColor":"#000000","domainWidth":1.5,"tickColor":"#000000","tickWidth":1.5,"tickSize":4,"labelFontSize":9.5,"labelFontWeight":"bold","labelColor":"#222222","labelPadding":2,"titleFontSize":10,"titleFontWeight":"bold","titleColor":"#222222","titlePadding":10}},"y2":{"datum":40},
"color":{"field":"grp","type":"nominal","scale":{"domain":["Control","Exercise"],"range":["#a8a8a8","#000000"]},"legend":null}}},
{"data":{"name":"pts"},"transform":[{"filter":"datum.p=='E'"}],"mark":{"type":"point","filled":true,"size":20,"opacity":1},
"encoding":{"y":{"field":"v","type":"quantitative","title":"AP amplitude(mV)"},"xOffset":{"field":"k","type":"ordinal","scale":{"domain":[-2,-1,0,1,2]}},"color":{"field":"grp","type":"nominal","legend":null},"shape":{"field":"grp","type":"nominal","scale":{"domain":["Control","Exercise"],"range":["circle","square"]},"legend":null}}},
{"data":{"name":"sum"},"transform":[{"filter":"datum.p=='E'"}],"mark":{"type":"rule","strokeWidth":1.5},
"encoding":{"y":{"field":"lo","type":"quantitative","title":"AP amplitude(mV)"},"y2":{"field":"hi"},"color":{"field":"grp","type":"nominal","legend":null}}},
{"data":{"name":"sum"},"transform":[{"filter":"datum.p=='E'"}],"mark":{"type":"tick","size":13,"thickness":1.5},
"encoding":{"y":{"field":"lo","type":"quantitative","title":"AP amplitude(mV)"},"color":{"field":"grp","type":"nominal","legend":null}}},
{"data":{"name":"sum"},"transform":[{"filter":"datum.p=='E'"}],"mark":{"type":"tick","size":13,"thickness":1.5},
"encoding":{"y":{"field":"hi","type":"quantitative","title":"AP amplitude(mV)"},"color":{"field":"grp","type":"nominal","legend":null}}},
{"data":{"name":"brk"},"transform":[{"filter":"datum.p=='E'"}],"mark":{"type":"line","strokeWidth":1.2,"color":"#222222"},
"encoding":{"y":{"field":"y","type":"quantitative","title":"AP amplitude(mV)"},"order":{"value":null}}},
{"data":{"name":"sig"},"transform":[{"filter":"datum.p=='E'"}],"mark":{"type":"text","fontSize":10.5,"fontStyle":"italic","align":"left","dx":6,"dy":-11,"color":"#222222"},
"encoding":{"y":{"field":"y","type":"quantitative","title":"AP amplitude(mV)"},"text":{"value":"p"}}},
{"data":{"name":"sig"},"transform":[{"filter":"datum.p=='E'"}],"mark":{"type":"text","fontSize":10.5,"align":"left","dx":11.8,"dy":-11,"color":"#222222"},
"encoding":{"y":{"field":"y","type":"quantitative","title":"AP amplitude(mV)"},"text":{"field":"pv","type":"nominal"}}},
{"data":{"name":"sig"},"transform":[{"filter":"datum.p=='E'"}],"mark":{"type":"text","fontSize":12,"fontWeight":"bold","align":"center","dx":24,"dy":2,"color":"#222222"},
"encoding":{"y":{"field":"y","type":"quantitative","title":"AP amplitude(mV)"},"text":{"field":"st","type":"nominal"}}}
]
},
{
"title":{"text":"F","anchor":"start","frame":"bounds","fontSize":16,"fontWeight":"bold","color":"#111111","offset":-3},
"width":104,"height":112,
"encoding":{"x":{"field":"grp","type":"nominal","title":"AHP amplitude","scale":{"domain":["Control","Exercise"],"paddingInner":0.354,"paddingOuter":0.26,"align":0.64},"axis":{"labelAngle":0,"labelExpr":"datum.value=='Control'?['Control','(n=14)']:['Exercise','(n=18)']","labelFontSize":8,"labelFontWeight":"bold","labelColor":"#222222","labelLineHeight":11,"domainColor":"#000000","domainWidth":1.5,"tickColor":"#000000","tickWidth":1.5,"tickSize":4,"labelPadding":3,"titleFontSize":11.5,"titleFontWeight":"bold","titleColor":"#222222","titlePadding":14}}},
"layer":[
{"data":{"name":"sum"},"transform":[{"filter":"datum.p=='F'"}],"mark":{"type":"bar","filled":false,"strokeWidth":2},
"encoding":{"y":{"field":"m","type":"quantitative","title":"AHP amplitude (mV)","scale":{"domain":[0,40],"nice":false,"zero":false},"axis":{"values":[0,10,20,30,40],"labelOverlap":false,"grid":false,"domainColor":"#000000","domainWidth":1.5,"tickColor":"#000000","tickWidth":1.5,"tickSize":4,"labelFontSize":9.5,"labelFontWeight":"bold","labelColor":"#222222","labelPadding":2,"titleFontSize":10,"titleFontWeight":"bold","titleColor":"#222222","titlePadding":10}},"y2":{"datum":0},
"color":{"field":"grp","type":"nominal","scale":{"domain":["Control","Exercise"],"range":["#a8a8a8","#000000"]},"legend":null}}},
{"data":{"name":"pts"},"transform":[{"filter":"datum.p=='F'"}],"mark":{"type":"point","filled":true,"size":20,"opacity":1},
"encoding":{"y":{"field":"v","type":"quantitative","title":"AHP amplitude (mV)"},"xOffset":{"field":"k","type":"ordinal","scale":{"domain":[-2,-1,0,1,2]}},"color":{"field":"grp","type":"nominal","legend":null},"shape":{"field":"grp","type":"nominal","scale":{"domain":["Control","Exercise"],"range":["circle","square"]},"legend":null}}},
{"data":{"name":"sum"},"transform":[{"filter":"datum.p=='F'"}],"mark":{"type":"rule","strokeWidth":1.5},
"encoding":{"y":{"field":"lo","type":"quantitative","title":"AHP amplitude (mV)"},"y2":{"field":"hi"},"color":{"field":"grp","type":"nominal","legend":null}}},
{"data":{"name":"sum"},"transform":[{"filter":"datum.p=='F'"}],"mark":{"type":"tick","size":13,"thickness":1.5},
"encoding":{"y":{"field":"lo","type":"quantitative","title":"AHP amplitude (mV)"},"color":{"field":"grp","type":"nominal","legend":null}}},
{"data":{"name":"sum"},"transform":[{"filter":"datum.p=='F'"}],"mark":{"type":"tick","size":13,"thickness":1.5},
"encoding":{"y":{"field":"hi","type":"quantitative","title":"AHP amplitude (mV)"},"color":{"field":"grp","type":"nominal","legend":null}}}
]
}
]
},
{
"spacing":15,
"resolve":{"scale":{"color":"independent","stroke":"independent","fill":"independent","shape":"independent"}},
"hconcat":[
{
"width":297,"height":264,
"encoding":{
"x":{"field":"x","type":"quantitative","scale":{"domain":[43,340],"nice":false,"zero":false},"axis":null},
"y":{"field":"y","type":"quantitative","scale":{"domain":[0,264],"nice":false,"zero":false},"axis":null}},
"layer":[
{"data":{"name":"gl"},"transform":[{"filter":"indexof(datum.s,'r')==2"}],"mark":{"type":"line","strokeWidth":1.1},
"encoding":{"detail":{"field":"s","type":"nominal"},"order":{"value":null},"stroke":{"field":"s","type":"nominal","scale":{"domain":["g1r1","g1r2","g1r3","g1r4","g2r1","g2r2","g2r3","g2r4","g1s","g1s1","g1s2","g1s3","g2s","g2s1","g2s2","g2s3","sb"],"range":["#6e6e6e","#6e6e6e","#6e6e6e","#6e6e6e","#111111","#111111","#111111","#111111","#8a8a8a","#8a8a8a","#8a8a8a","#8a8a8a","#222222","#222222","#222222","#222222","#666666"]},"legend":null}}},
{"data":{"name":"gl"},"transform":[{"filter":"indexof(datum.s,'r')!=2"}],"mark":{"type":"line","strokeWidth":1.2},
"encoding":{"detail":{"field":"s","type":"nominal"},"order":{"value":null},"stroke":{"field":"s","type":"nominal","legend":null}}},
{"data":{"name":"gt"},"transform":[{"filter":"datum.k=='L'"}],"mark":{"type":"text","fontSize":18,"fontWeight":"bold","color":"#111111"},"encoding":{"text":{"field":"t","type":"nominal"}}},
{"data":{"name":"gt"},"transform":[{"filter":"datum.k=='S'"}],"mark":{"type":"text","fontSize":12,"fontWeight":"bold","color":"#222222"},"encoding":{"text":{"field":"t","type":"nominal"}}},
{"data":{"name":"gt"},"transform":[{"filter":"datum.k=='C'"}],"mark":{"type":"text","fontSize":14,"fontWeight":"bold","color":"#222222"},"encoding":{"text":{"field":"t","type":"nominal"}}},
{"data":{"name":"gt"},"transform":[{"filter":"datum.k=='n1'"}],"mark":{"type":"text","fontSize":11,"color":"#808080"},"encoding":{"text":{"field":"t","type":"nominal"}}},
{"data":{"name":"gt"},"transform":[{"filter":"datum.k=='n2'"}],"mark":{"type":"text","fontSize":11,"color":"#444444"},"encoding":{"text":{"field":"t","type":"nominal"}}},
{"data":{"name":"gt"},"transform":[{"filter":"datum.k=='pa1'"}],"mark":{"type":"text","fontSize":7,"color":"#777777"},"encoding":{"text":{"field":"t","type":"nominal"}}},
{"data":{"name":"gt"},"transform":[{"filter":"datum.k=='pa2'"}],"mark":{"type":"text","fontSize":7,"fontWeight":"bold","color":"#222222"},"encoding":{"text":{"field":"t","type":"nominal"}}},
{"data":{"name":"gt"},"transform":[{"filter":"datum.k=='tn'"}],"mark":{"type":"text","fontSize":4.5,"color":"#777777"},"encoding":{"text":{"field":"t","type":"nominal"}}},
{"data":{"name":"gt"},"transform":[{"filter":"datum.k=='sbt'"}],"mark":{"type":"text","fontSize":9,"color":"#777777"},"encoding":{"text":{"field":"t","type":"nominal"}}},
{"data":{"name":"gt"},"transform":[{"filter":"datum.k=='sbr'"}],"mark":{"type":"text","fontSize":9,"color":"#777777","angle":270},"encoding":{"text":{"field":"t","type":"nominal"}}}
]
},
{
"title":{"text":"H","anchor":"start","frame":"bounds","fontSize":18,"fontWeight":"bold","color":"#111111","offset":14,"dx":-8},
"width":233,"height":194,
"data":{"name":"freq"},
"encoding":{
"x":{"field":"cur","type":"quantitative","title":"Current(pA)","scale":{"domain":[0,100],"nice":false,"zero":false},"axis":{"values":[0,20,40,60,80,100],"grid":false,"domainColor":"#000000","domainWidth":2,"tickColor":"#000000","tickWidth":2,"tickSize":6,"labelFontSize":14,"labelFontWeight":"bold","labelColor":"#111111","labelPadding":3,"labelFlush":false,"titleFontSize":16,"titleFontWeight":"bold","titleColor":"#333333","titlePadding":10}},
"y":{"field":"f","type":"quantitative","title":"Frequency (Hz)","scale":{"domain":[0,8],"nice":false,"zero":false},"axis":{"values":[0,2,4,6,8],"grid":false,"domainColor":"#000000","domainWidth":2,"tickColor":"#000000","tickWidth":2,"tickSize":6,"labelFontSize":14,"labelFontWeight":"bold","labelColor":"#111111","labelPadding":3,"titleFontSize":16,"titleFontWeight":"bold","titleColor":"#333333","titlePadding":12}}},
"layer":[
{"transform":[{"filter":"datum.g=='Exercise'"}],"mark":{"type":"rule","color":"#000000","strokeWidth":1.5},"encoding":{"y":{"field":"lo","type":"quantitative","title":"Frequency (Hz)"},"y2":{"field":"hi"}}},
{"transform":[{"filter":"datum.g=='Exercise'"}],"mark":{"type":"tick","orient":"horizontal","size":9,"thickness":1.5,"color":"#000000"},"encoding":{"y":{"field":"lo","type":"quantitative","title":"Frequency (Hz)"}}},
{"transform":[{"filter":"datum.g=='Exercise'"}],"mark":{"type":"tick","orient":"horizontal","size":9,"thickness":1.5,"color":"#000000"},"encoding":{"y":{"field":"hi","type":"quantitative","title":"Frequency (Hz)"}}},
{"transform":[{"filter":"datum.g=='Exercise'"}],"mark":{"type":"line","color":"#000000","strokeWidth":1.5}},
{"transform":[{"filter":"datum.g=='Exercise'"}],"mark":{"type":"point","shape":"square","filled":true,"size":90,"color":"#000000","opacity":1}},
{"transform":[{"filter":"datum.g=='Control'"}],"mark":{"type":"rule","color":"#a6a6a6","strokeWidth":1.5},"encoding":{"y":{"field":"lo","type":"quantitative","title":"Frequency (Hz)"},"y2":{"field":"hi"}}},
{"transform":[{"filter":"datum.g=='Control'"}],"mark":{"type":"tick","orient":"horizontal","size":9,"thickness":1.5,"color":"#a6a6a6"},"encoding":{"y":{"field":"lo","type":"quantitative","title":"Frequency (Hz)"}}},
{"transform":[{"filter":"datum.g=='Control'"}],"mark":{"type":"tick","orient":"horizontal","size":9,"thickness":1.5,"color":"#a6a6a6"},"encoding":{"y":{"field":"hi","type":"quantitative","title":"Frequency (Hz)"}}},
{"transform":[{"filter":"datum.g=='Control'"}],"mark":{"type":"line","color":"#a6a6a6","strokeWidth":1.5}},
{"transform":[{"filter":"datum.g=='Control'"}],"mark":{"type":"point","shape":"circle","filled":true,"size":120,"color":"#a6a6a6","opacity":1}},
{"transform":[{"filter":"datum.cur==10"}],"mark":{"type":"point","opacity":0},
"encoding":{
"fill":{"field":"g","type":"nominal","scale":{"domain":["Control","Exercise"],"range":["#a6a6a6","#000000"]},"legend":{"orient":"top-left","title":null,"offset":4,"padding":0,"symbolOffset":17,"labelOffset":27,"rowPadding":10,"labelFontSize":14,"labelFontWeight":"bold","labelColor":"#1a1a1a","symbolSize":100,"symbolStrokeWidth":1.5,"symbolOpacity":1,"labelExpr":"datum.label + ' (n=8)'"}},
"stroke":{"field":"g","type":"nominal","scale":{"domain":["Control","Exercise"],"range":["#a6a6a6","#000000"]},"legend":{"orient":"top-left","title":null,"offset":4,"padding":0,"symbolOffset":17,"labelOffset":27,"rowPadding":10,"labelFontSize":14,"labelFontWeight":"bold","labelColor":"#1a1a1a","symbolSize":100,"symbolStrokeWidth":1.5,"symbolOpacity":1,"labelExpr":"datum.label + ' (n=8)'"}},
"shape":{"field":"g","type":"nominal","scale":{"domain":["Control","Exercise"],"range":["M-2.1,0H-1M1,0H2.1M-1,0A1,1,0,1,1,1,0A1,1,0,1,1,-1,0Z","M-2.1,0H-0.8M0.8,0H2.1M-0.8,-0.8H0.8V0.8H-0.8Z"]},"legend":{"orient":"top-left","title":null,"offset":4,"padding":0,"symbolOffset":17,"labelOffset":27,"rowPadding":10,"labelFontSize":14,"labelFontWeight":"bold","labelColor":"#1a1a1a","symbolSize":100,"symbolStrokeWidth":1.5,"symbolOpacity":1,"labelExpr":"datum.label + ' (n=8)'"}}}}
]
}
]
}
]
}
]
}
